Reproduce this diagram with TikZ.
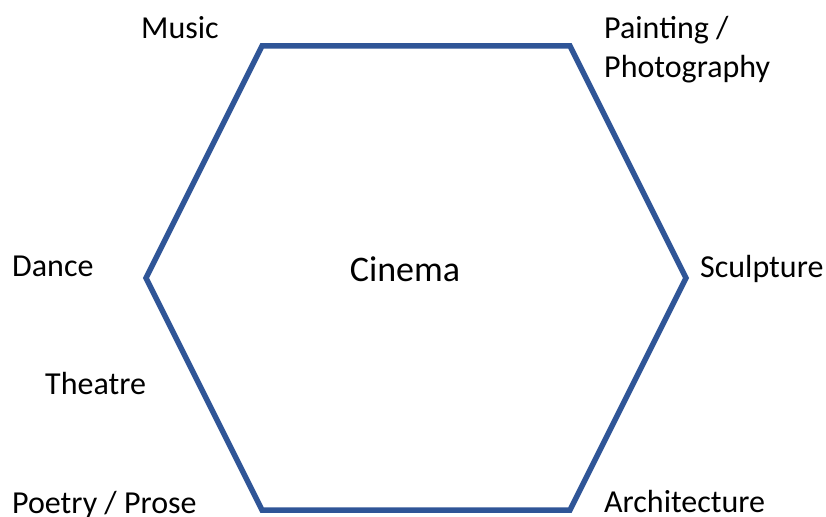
\documentclass[tikz,border=0pt]{standalone}
\usepackage{fontspec}
\setmainfont{Carlito}
\definecolor{hexblue}{HTML}{2F5597}
\begin{document}
\begin{tikzpicture}[x=1pt,y=-1pt,
  lbl/.style={anchor=base west,inner sep=0pt,font=\fontsize{32}{39}\selectfont,align=left}]
\useasboundingbox (0,0) rectangle (826,516);
\draw[hexblue,line width=5.5pt,line join=miter]
  (262,46) -- (570,46) -- (686,278) -- (570,510) -- (262,510) -- (146,278) -- cycle;
\node[anchor=base,inner sep=0pt,font=\fontsize{36}{40}\selectfont] (cinema) at (405,281) {Cinema};
\node[lbl] (music) at (141,39) {Music};
\node[lbl] (painting) at (604,78) {Painting /\\Photography};
\node[lbl] (dance) at (12,276) {Dance};
\node[lbl] (sculpture) at (700,277) {Sculpture};
\node[lbl] (theatre) at (45,394) {Theatre};
\node[lbl] (poetry) at (12,513) {Poetry / Prose};
\node[lbl] (arch) at (604,512) {Architecture};
\end{tikzpicture}
\end{document}
